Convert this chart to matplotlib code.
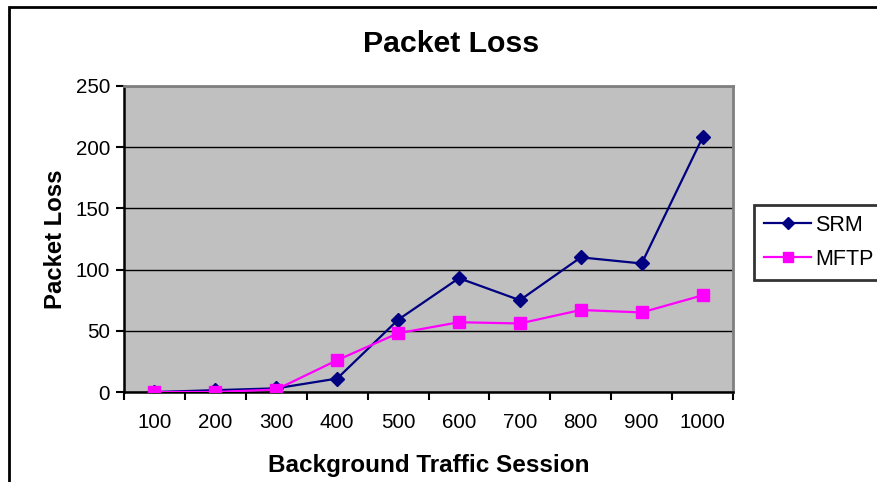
import matplotlib
matplotlib.use('Agg')
import matplotlib.pyplot as plt
from matplotlib.patches import Rectangle

plt.rcParams['font.family'] = ['Liberation Sans', 'DejaVu Sans']

sessions = ['100', '200', '300', '400', '500', '600', '700', '800', '900', '1000']
srm = [0, 1.5, 3, 11, 59, 93, 75, 110, 105, 208]
mftp = [0, 0, 2, 26, 48, 57, 56, 67, 65, 79]

fig = plt.figure(figsize=(8.78, 4.82), dpi=100)
ax = fig.add_axes([0.1412, 0.1867, 0.6937, 0.6349])
ax.set_facecolor('#C0C0C0')

x = range(len(sessions))
ax.plot(x, srm, color='#000080', lw=1.6, marker='D', ms=7.5, label='SRM', zorder=3)
ax.plot(x, mftp, color='#FF00FF', lw=1.6, marker='s', ms=8.5, mfc='#FF00FF',
        mec='#FF00FF', label='MFTP', zorder=3)

ax.set_xlim(-0.5, len(sessions) - 0.5)
ax.set_ylim(0, 250)
ax.set_yticks([0, 50, 100, 150, 200, 250])
ax.yaxis.grid(True, color='black', lw=1)
ax.set_axisbelow(True)

# ticks between categories, labels at category centres
ax.set_xticks([i - 0.5 for i in range(len(sessions) + 1)])
ax.set_xticklabels([])
ax.set_xticks(list(x), minor=True)
ax.set_xticklabels(sessions, minor=True)
ax.tick_params(axis='x', which='major', direction='out', length=6, width=1.5)
ax.tick_params(axis='x', which='minor', length=0, pad=15, labelsize=14.8)
ax.tick_params(axis='y', direction='out', length=6, width=1.5, labelsize=14.8, pad=4)

for s in ['left', 'bottom']:
    ax.spines[s].set_color('black')
    ax.spines[s].set_linewidth(1.8)
for s in ['top', 'right']:
    ax.spines[s].set_color('#808080')
    ax.spines[s].set_linewidth(2)

fig.text(0.514, 0.908, 'Packet Loss', ha='center', va='center', fontsize=21.8, fontweight='bold')
ax.set_xlabel('Background Traffic Session', fontsize=17.5, fontweight='bold', labelpad=16)
ax.set_ylabel('Packet Loss', fontsize=17.2, fontweight='bold', labelpad=6)

leg = fig.legend(loc='upper left', bbox_to_anchor=(0.859, 0.575), fontsize=15.5,
                 frameon=True, fancybox=False, edgecolor='black', handlelength=2.2,
                 borderpad=0.45, labelspacing=0.62, handletextpad=0.2, borderaxespad=0,
                 markerscale=0.8)
leg.get_frame().set_linewidth(2)

fig.patches.append(Rectangle((9 / 878, -0.2), 2, 0.2 + 1 - 7 / 482, transform=fig.transFigure,
                             fill=False, edgecolor='black', lw=2))

fig.savefig('out.png', dpi=100)
